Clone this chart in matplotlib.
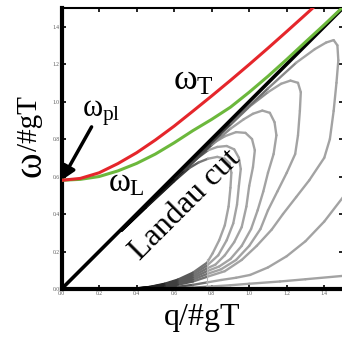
import matplotlib
matplotlib.use('Agg')
import matplotlib.pyplot as plt
import numpy as np
from matplotlib.collections import LineCollection

plt.rcParams['font.family'] = ['Liberation Serif', 'DejaVu Serif']
plt.rcParams['mathtext.fontset'] = 'custom'
plt.rcParams['mathtext.rm'] = 'Liberation Serif'
plt.rcParams['mathtext.it'] = 'Liberation Serif'

# --- values (q and omega in units of gT) ---
ticks = [0.0, 0.2, 0.4, 0.6, 0.8, 1.0, 1.2, 1.4]

cone_q = [0.0, 1.5]
cone_w = [0.0, 1.5]

trans_q = [0.0, 0.1, 0.2, 0.3, 0.4, 0.5, 0.6, 0.7, 0.8, 0.9, 1.0, 1.1, 1.2, 1.3, 1.4]
trans_w = [0.58, 0.59, 0.62, 0.669, 0.727, 0.795, 0.869, 0.949, 1.03, 1.113,
           1.198, 1.285, 1.374, 1.464, 1.555]

long_q = [0.0, 0.1, 0.2, 0.3, 0.4, 0.5, 0.6, 0.7, 0.8, 0.9, 1.0, 1.1, 1.2, 1.3, 1.4, 1.5]
long_w = [0.58, 0.585, 0.60, 0.63, 0.67, 0.72, 0.78, 0.845, 0.905, 0.97, 1.05,
          1.135, 1.225, 1.318, 1.41, 1.505]

# grey curves below the light cone (Landau cut region)
loop1_q = [0.32, 0.45, 0.60, 0.68, 0.73, 0.78, 0.83, 0.87, 0.895, 0.905, 0.90, 0.89, 0.87,
           0.84, 0.805, 0.775, 0.70, 0.62, 0.55, 0.47, 0.40, 0.35]
loop1_w = [0.31, 0.435, 0.575, 0.645, 0.675, 0.695, 0.705, 0.695, 0.67, 0.62, 0.54, 0.44, 0.34,
           0.26, 0.19, 0.14, 0.087, 0.05, 0.028, 0.011, 0.003, 0.0]

loop2_q = [0.32, 0.45, 0.62, 0.72, 0.78, 0.83, 0.88, 0.92, 0.945, 0.955, 0.945, 0.935, 0.915,
           0.88, 0.835, 0.775, 0.70, 0.62, 0.55, 0.47, 0.40, 0.35]
loop2_w = [0.312, 0.437, 0.598, 0.695, 0.74, 0.758, 0.763, 0.745, 0.70, 0.64, 0.55, 0.45, 0.35,
           0.26, 0.18, 0.125, 0.078, 0.045, 0.025, 0.01, 0.003, 0.0]

loop3_q = [0.32, 0.45, 0.62, 0.75, 0.82, 0.87, 0.93, 0.98, 1.015, 1.03, 1.02, 1.0, 0.985,
           0.96, 0.92, 0.87, 0.82, 0.775, 0.70, 0.62, 0.55, 0.47, 0.40, 0.35]
loop3_w = [0.313, 0.439, 0.60, 0.725, 0.785, 0.815, 0.837, 0.833, 0.80, 0.74, 0.65, 0.55,
           0.44, 0.33, 0.25, 0.18, 0.13, 0.11, 0.068, 0.04, 0.022, 0.009, 0.002, 0.0]

loop4_q = [0.32, 0.45, 0.65, 0.80, 0.90, 0.97, 1.02, 1.07, 1.11, 1.135, 1.145, 1.13, 1.10,
           1.075, 1.045, 1.01, 0.96, 0.90, 0.84, 0.775, 0.70, 0.62, 0.55, 0.47, 0.40, 0.35]
loop4_w = [0.314, 0.44, 0.632, 0.77, 0.855, 0.905, 0.935, 0.952, 0.94, 0.89, 0.82, 0.72, 0.62,
           0.52, 0.42, 0.32, 0.23, 0.16, 0.12, 0.095, 0.059, 0.034, 0.019, 0.008, 0.002, 0.0]

loop5_q = [0.32, 0.45, 0.65, 0.85, 1.0, 1.10, 1.17, 1.22, 1.26, 1.275, 1.27, 1.26, 1.245,
           1.20, 1.15, 1.10, 1.06, 1.0, 0.93, 0.85, 0.775, 0.70, 0.62, 0.55, 0.47, 0.40, 0.35]
loop5_w = [0.315, 0.442, 0.636, 0.828, 0.972, 1.05, 1.095, 1.112, 1.10, 1.05, 0.95, 0.82, 0.72,
           0.62, 0.52, 0.42, 0.32, 0.23, 0.155, 0.105, 0.08, 0.05, 0.029, 0.016, 0.007, 0.002,
           0.0]

loop6_q = [0.32, 0.60, 0.90, 1.10, 1.25, 1.35, 1.41, 1.45, 1.47, 1.475, 1.465, 1.45, 1.43,
           1.40, 1.32, 1.25, 1.18, 1.12, 1.04, 0.96, 0.87, 0.775, 0.70, 0.62, 0.55, 0.47,
           0.40, 0.35]
loop6_w = [0.316, 0.592, 0.882, 1.07, 1.207, 1.28, 1.315, 1.328, 1.30, 1.22, 1.10, 0.95, 0.80,
           0.70, 0.58, 0.49, 0.40, 0.317, 0.23, 0.155, 0.095, 0.065, 0.04, 0.023, 0.013, 0.005,
           0.001, 0.0]

open1_q = [0.35, 0.40, 0.47, 0.55, 0.62, 0.70, 0.775, 0.85, 0.93, 1.005, 1.1, 1.2, 1.3, 1.4, 1.5]
open1_w = [0.0, 0.001, 0.003, 0.007, 0.012, 0.022, 0.035, 0.048, 0.06, 0.075, 0.115, 0.175,
           0.255, 0.36, 0.49]

open0_q = [0.35, 0.5, 0.62, 0.70, 0.775, 0.9, 1.0, 1.164, 1.3, 1.5]
open0_w = [0.0, 0.001, 0.004, 0.007, 0.012, 0.02, 0.028, 0.04, 0.052, 0.07]

grey_curves = [(loop1_q, loop1_w), (loop2_q, loop2_w), (loop3_q, loop3_w),
               (loop4_q, loop4_w), (loop5_q, loop5_w), (loop6_q, loop6_w),
               (open1_q, open1_w), (open0_q, open0_w)]

cut_q = [0.775, 0.775]
cut_w = [0.0, 0.16]

fig = plt.figure(figsize=(3.42, 3.42), dpi=100)
ax = fig.add_axes([0.180, 0.155, 0.823, 0.822])

# grey curves: black at the far left of the fan, grey right of the cut,
# darker where they hug the light cone
for cq, cw in grey_curves:
    pts = np.column_stack([cq, cw])
    segs = np.stack([pts[:-1], pts[1:]], axis=1)
    mid = segs.mean(axis=1)
    g = np.where(mid[:, 0] < 0.775,
                 np.clip(0.5 * (mid[:, 0] - 0.40) / 0.375, 0, 0.5), 0.64)
    near_cone = np.clip(1 - (mid[:, 0] - mid[:, 1]) / 0.05, 0, 1)
    g = g * (1 - 0.6 * near_cone)
    lc = LineCollection(segs, colors=np.column_stack([g, g, g]), linewidths=1.7,
                        capstyle='round', joinstyle='round', zorder=2)
    ax.add_collection(lc)

ax.plot(cut_q, cut_w, color='#b5b5b5', lw=0.8, zorder=2)
ax.plot(cone_q, cone_w, color='black', lw=2.6, zorder=3)
ax.plot(long_q, long_w, color='#6cb83c', lw=2.2, zorder=4)
ax.plot(trans_q, trans_w, color='#e5262b', lw=2.2, zorder=4)

# annotations
ax.text(0.594, 1.06, r'$\omega_{T}$', fontsize=26, va='baseline')
ax.text(0.247, 0.52, r'$\omega_{L}$', fontsize=24, va='baseline')
ax.text(0.11, 0.92, r'$\omega_{pl}$', fontsize=22, va='baseline')
ax.text(0.66, 0.45, 'Landau cut', rotation=45, ha='center', va='center',
        rotation_mode='anchor', fontsize=23)
ax.annotate('', xy=(0.0, 0.58), xytext=(0.16, 0.865),
            arrowprops=dict(arrowstyle='-|>', color='black', lw=2.5, mutation_scale=20,
                            shrinkA=0, shrinkB=0))

ax.set_xlim(0, 1.5)
ax.set_ylim(0, 1.5)
ax.set_xticks(ticks)
ax.set_yticks(ticks)
ax.set_xticklabels(['%.1f' % t for t in ticks])
ax.set_yticklabels(['%.1f' % t for t in ticks])
ax.tick_params(direction='in', top=True, right=True, length=3, width=1.2,
               labelsize=4, labelcolor='#555555', pad=1.5)
for side in ['left', 'bottom']:
    ax.spines[side].set_linewidth(3.0)
for side in ['top', 'right']:
    ax.spines[side].set_linewidth(1.5)

ax.set_xlabel('q/#gT', fontsize=23, labelpad=5)
# y label: the omega is drawn larger than the rest, as in the original
fig.text(0.092, 0.52, 'ω', fontsize=28, rotation=90, ha='center', va='center')
fig.text(0.088, 0.638, '/#gT', fontsize=21, rotation=90, ha='center', va='center')

fig.savefig('out.png', dpi=100)
